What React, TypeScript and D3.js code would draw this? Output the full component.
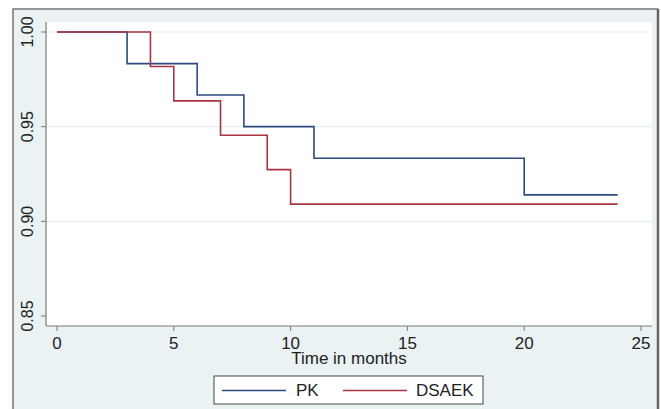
import * as d3 from "d3";

const pkTimes = [0, 3, 6, 8, 11, 20, 24];
const pkSurv = [1.0, 0.9833, 0.9667, 0.95, 0.9333, 0.914, 0.914];
const dsaekTimes = [0, 4, 5, 7, 9, 10, 24];
const dsaekSurv = [1.0, 0.9818, 0.9636, 0.9455, 0.9273, 0.9091, 0.9091];
const xTicks = [0, 5, 10, 15, 20, 25];
const yTicks = [0.85, 0.9, 0.95, 1.0];
const gridTicks = [0.9, 0.95, 1.0];

const series = [
  { name: "PK", times: pkTimes, surv: pkSurv, color: "#2c4a7c" },
  { name: "DSAEK", times: dsaekTimes, surv: dsaekSurv, color: "#a8343f" },
];

const W = 661;
const H = 409;
const font = "'Liberation Sans', Arial, sans-serif";

export default function App() {
  const x = d3.scaleLinear().domain([0, 25]).range([57, 641]);
  const y = d3.scaleLinear().domain([0.85, 1.0]).range([316, 32]);

  const plotL = 46;
  const plotR = 652;
  const plotT = 22;
  const plotB = 326;

  const line = d3
    .line<[number, number]>()
    .x((d) => x(d[0]))
    .y((d) => y(d[1]))
    .curve(d3.curveStepAfter);

  return (
    <div style={{ position: "absolute", left: 0, top: 0 }}>
      <svg width={W} height={H} style={{ display: "block" }} fontFamily={font}>
        <rect x={0} y={0} width={W} height={H} fill="#ffffff" />
        {/* graph region */}
        <rect x={13} y={9} width={645} height={H} fill="#eaf2f3" stroke="#555" strokeWidth={1.2} />
        <line x1={658} x2={658} y1={9} y2={H} stroke="#666" strokeWidth={2.5} />
        {/* plot region */}
        <rect x={plotL} y={plotT} width={plotR - plotL} height={plotB - plotT} fill="#ffffff" />
        {gridTicks.map((t) => (
          <line key={t} x1={plotL} x2={plotR} y1={y(t)} y2={y(t)} stroke="#e6eff3" strokeWidth={1.2} />
        ))}

        {/* axes */}
        <line x1={plotL} x2={plotL} y1={plotT} y2={plotB} stroke="#7a7a7a" strokeWidth={1.2} />
        <line x1={plotL} x2={plotR} y1={plotB} y2={plotB} stroke="#7a7a7a" strokeWidth={1.2} />
        {yTicks.map((t) => (
          <g key={t}>
            <line x1={plotL - 5} x2={plotL} y1={y(t)} y2={y(t)} stroke="#7a7a7a" strokeWidth={1} />
            <text
              transform={`translate(33,${y(t)}) rotate(-90)`}
              textAnchor="middle"
              fontSize={16}
              fill="#222"
            >
              {t.toFixed(2)}
            </text>
          </g>
        ))}
        {xTicks.map((t) => (
          <g key={t}>
            <line x1={x(t)} x2={x(t)} y1={plotB} y2={plotB + 5} stroke="#7a7a7a" strokeWidth={1} />
            <text x={x(t)} y={349} textAnchor="middle" fontSize={17} fill="#222">
              {t}
            </text>
          </g>
        ))}
        <text x={(plotL + plotR) / 2} y={364} textAnchor="middle" fontSize={17} fill="#222">
          Time in months
        </text>

        {/* survival curves */}
        {series.map((s) => (
          <path
            key={s.name}
            d={line(s.times.map((t, i) => [t, s.surv[i]] as [number, number])) ?? ""}
            fill="none"
            stroke={s.color}
            strokeWidth={1.6}
          />
        ))}

        {/* legend */}
        <rect x={214} y={376} width={269} height={28} fill="#ffffff" stroke="#444" strokeWidth={1} />
        <line x1={222} x2={286} y1={390.5} y2={390.5} stroke={series[0].color} strokeWidth={1.6} />
        <text x={296} y={396} fontSize={17} fill="#222">
          {series[0].name}
        </text>
        <line x1={343} x2={407} y1={390.5} y2={390.5} stroke={series[1].color} strokeWidth={1.6} />
        <text x={416} y={396} fontSize={17} fill="#222">
          {series[1].name}
        </text>
      </svg>
    </div>
  );
}
